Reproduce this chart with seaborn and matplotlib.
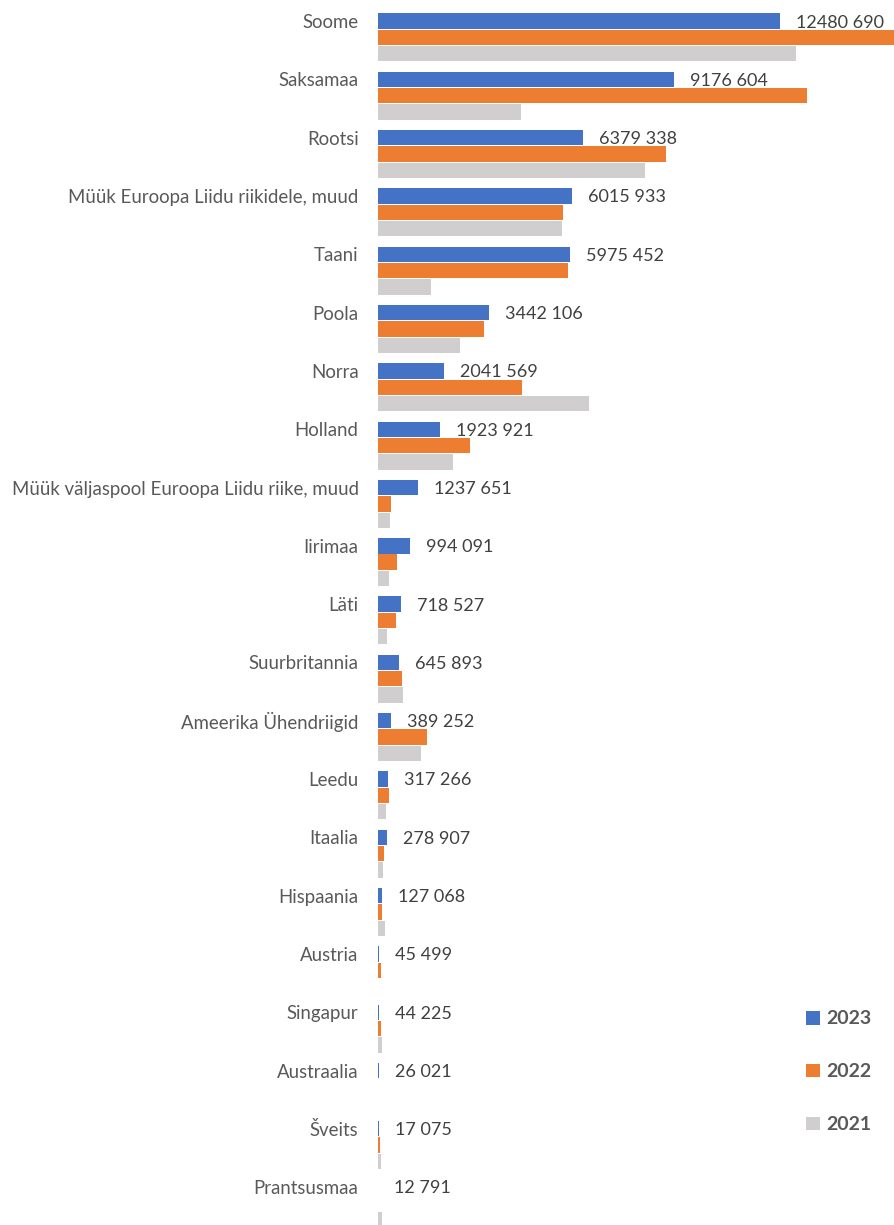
import numpy as np
import pandas as pd
import matplotlib
matplotlib.use("Agg")
import matplotlib.pyplot as plt
import seaborn as sns
from matplotlib.patches import Patch

# Categories (top to bottom) and yearly values
categories = [
    "Soome", "Saksamaa", "Rootsi", "Müük Euroopa Liidu riikidele, muud", "Taani",
    "Poola", "Norra", "Holland", "Müük väljaspool Euroopa Liidu riike, muud",
    "Iirimaa", "Läti", "Suurbritannia", "Ameerika Ühendriigid", "Leedu", "Itaalia",
    "Hispaania", "Austria", "Singapur", "Austraalia", "Šveits", "Prantsusmaa",
]
years = ["2023", "2022", "2021"]

values_2023 = [12480690, 9176604, 6379338, 6015933, 5975452, 3442106, 2041569,
               1923921, 1237651, 994091, 718527, 645893, 389252, 317266, 278907,
               127068, 45499, 44225, 26021, 17075, 12791]
values_2022 = [16300000, 13310000, 8950000, 5740000, 5890000, 3290000, 4460000,
               2860000, 390000, 590000, 560000, 740000, 1530000, 340000, 190000,
               120000, 80000, 90000, 10000, 70000, 10000]
values_2021 = [12970000, 4430000, 8290000, 5700000, 1650000, 2560000, 6540000,
               2340000, 370000, 340000, 280000, 770000, 1320000, 250000, 150000,
               220000, 10000, 110000, 0, 90000, 110000]

colors = {"2023": "#4472C4", "2022": "#ED7D31", "2021": "#D0CECE"}

df = pd.DataFrame({
    "riik": categories * 3,
    "aasta": ["2023"] * len(categories) + ["2022"] * len(categories) + ["2021"] * len(categories),
    "väärtus": values_2023 + values_2022 + values_2021,
})

sns.set_theme(style="white")
plt.rcParams["font.family"] = ["Lato", "DejaVu Sans"]

fig = plt.figure(figsize=(8.95, 12.25), dpi=100)
ax = fig.add_axes([378 / 895, 0.0, 1 - 378 / 895, 1.0])

sns.barplot(
    data=df, y="riik", x="väärtus", hue="aasta", hue_order=years,
    order=categories, palette=colors, orient="h", width=0.84, gap=0.06,
    saturation=1, linewidth=0, legend=False, ax=ax,
)

ax.set_xlim(0, 16.05e6)
ax.set_ylim(len(categories) - 1 + 0.37, -0.643)
sns.despine(ax=ax, left=True, bottom=True)
ax.set_xticks([])
ax.set_xlabel("")
ax.set_ylabel("")

# category labels aligned with the 2023 bars
blue_bars = ax.containers[0]
ax.set_yticks([b.get_y() + b.get_height() / 2 for b in blue_bars])
ax.set_yticklabels(categories, fontsize=13.4, color="#595959")
ax.tick_params(axis="y", length=0, pad=14)

# data labels for 2023
for bar, v in zip(blue_bars, values_2023):
    txt = f"{v // 1000} {v % 1000:03d}"
    ax.annotate(txt, (bar.get_width(), bar.get_y() + bar.get_height() / 2),
                xytext=(11.5, -1), textcoords="offset points",
                va="center", ha="left", fontsize=13.0, color="#404040")

# legend
handles = [Patch(facecolor=colors[y], edgecolor="none") for y in years]
leg = fig.legend(handles, years, loc="upper left", bbox_to_anchor=(789 / 895, 1 - 993 / 1225),
                 frameon=False, handlelength=0.7, handleheight=0.7, handletextpad=0.3,
                 labelspacing=1.85, prop={"weight": "bold", "size": 14.0})
for t in leg.get_texts():
    t.set_color("#595959")

fig.savefig("out.png", dpi=100)
